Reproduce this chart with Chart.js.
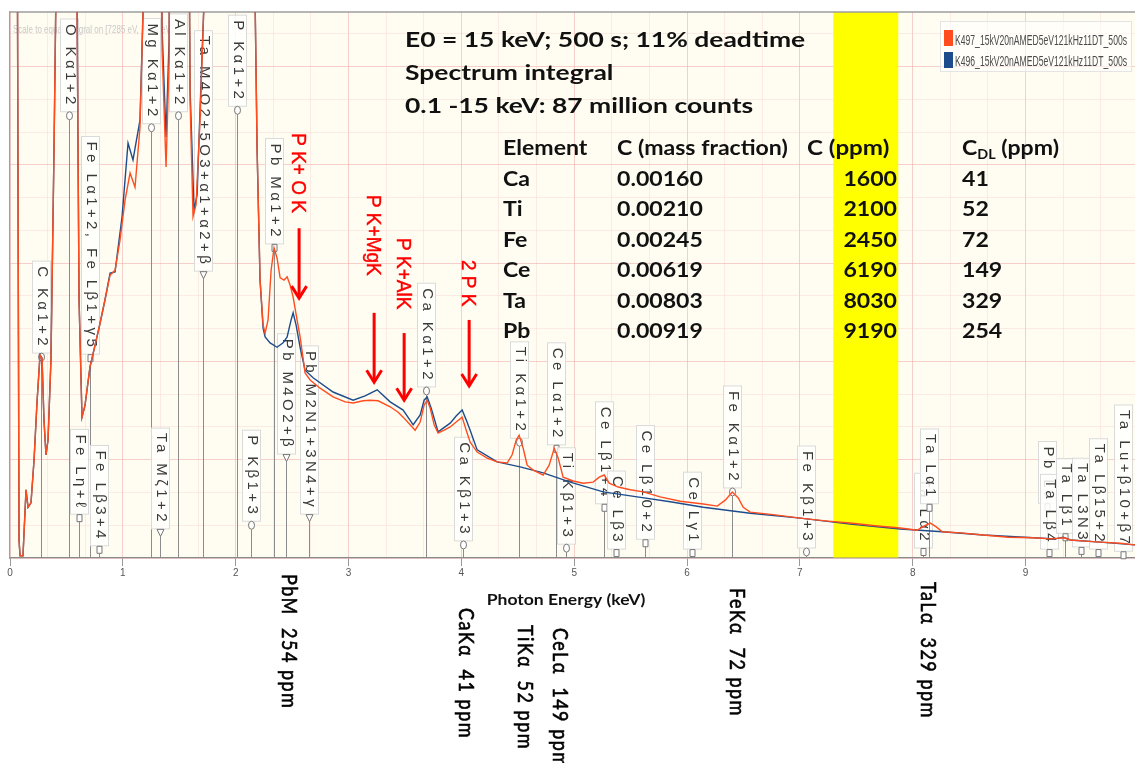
<!DOCTYPE html>
<html><head><meta charset="utf-8">
<script src="https://cdn.jsdelivr.net/npm/chart.js@4.4.1/dist/chart.umd.min.js"></script>
<style>html,body{margin:0;padding:0;background:#fff;}canvas{display:block;}</style>
</head><body>
<canvas id="c" width="1135" height="763"></canvas>
<script>
// ---------- DATA ----------
const seriesNames = ['K497_15kV20nAMED5eV121kHz11DT_500s', 'K496_15kV20nAMED5eV121kHz11DT_500s'];

const energyK497 = [
  0.027,0.053,0.080,0.089,0.115,0.142,0.160,0.186,0.213,0.239,
  0.266,0.284,0.301,0.319,0.337,0.363,0.390,0.417,0.461,0.523,
  0.567,0.594,0.612,0.638,0.665,0.709,0.754,0.798,0.842,0.887,
  0.931,0.975,1.020,1.064,1.108,1.152,1.179,1.206,1.259,1.312,
  1.348,1.383,1.410,1.436,1.489,1.560,1.596,1.622,1.649,1.684,
  1.720,1.755,1.879,2.012,2.128,2.172,2.190,2.216,2.243,2.261,
  2.287,2.314,2.340,2.367,2.394,2.429,2.456,2.482,2.509,2.544,
  2.571,2.615,2.660,2.748,2.863,2.970,3.041,3.129,3.191,3.262,
  3.369,3.440,3.484,3.546,3.590,3.635,3.670,3.697,3.723,3.759,
  3.794,3.848,3.901,3.954,4.007,4.043,4.078,4.140,4.229,4.317,
  4.406,4.450,4.486,4.512,4.548,4.583,4.637,4.725,4.778,4.823,
  4.858,4.902,4.991,5.080,5.168,5.222,5.266,5.310,5.390,5.496,
  5.612,5.762,5.940,6.144,6.268,6.339,6.401,6.454,6.498,6.560,
  6.782,7.004,7.225,7.447,7.668,7.890,8.041,8.103,8.156,8.209,
  8.262,8.422,8.626,8.848,9.069,9.220,9.344,9.397,9.530,9.663,9.840,9.973
];
const countsK497 = [
  3000,2000,33,4,4,125,93,101,179,284,
  372,366,253,189,216,363,747,1200,3000,6000,
  3000,1022,473,258,280,350,390,430,473,518,
  527,582,656,705,679,789,1000,2000,6000,2000,
  930,716,912,2000,6000,2000,839,625,647,802,
  1022,3000,2500,8000,2500,1022,747,509,427,412,
  436,527,568,549,513,509,515,500,478,436,
  405,339,326,311,295,286,284,288,289,288,
  277,267,258,244,234,249,280,289,275,244,
  229,234,240,249,258,234,212,194,183,176,
  174,189,216,225,201,170,161,152,170,201,
  183,148,141,137,139,148,152,137,130,125,
  121,112,104,99,95,106,121,110,93,84,
  79,73,68,64,59,55,51,59,64,57,
  48,46,42,38,37,35,37,33,31,29,27,24
];

const energyK496 = [
  0.027,0.053,0.080,0.089,0.115,0.142,0.160,0.186,0.213,0.239,
  0.266,0.284,0.301,0.319,0.337,0.363,0.390,0.417,0.461,0.523,
  0.567,0.594,0.612,0.638,0.665,0.709,0.754,0.798,0.842,
  0.887,0.931,0.993,1.046,1.090,1.152,1.179,1.206,1.259,1.312,
  1.348,1.383,1.410,1.436,1.489,1.560,1.596,1.631,1.658,1.684,
  1.720,1.755,1.879,2.012,2.128,2.172,2.190,2.216,2.243,2.261,
  2.305,2.367,2.420,2.456,2.491,2.509,2.535,2.571,2.615,2.686,
  2.863,3.041,3.147,3.254,3.369,3.484,3.573,3.635,3.670,3.697,
  3.732,3.794,3.901,3.954,4.007,4.043,4.078,4.140,4.317,4.521,
  4.725,4.965,5.257,5.559,5.851,6.144,6.560,7.004,7.447,7.890,
  8.262,8.626,9.069,9.264,9.335,9.397,9.663,9.973
];
const countsK496 = [
  3000,2000,33,4,4,125,93,101,179,284,
  372,366,253,189,216,363,747,1200,3000,6000,
  3000,1022,473,258,280,350,390,430,473,
  522,524,625,760,729,802,1000,2000,6000,2000,
  967,771,949,2000,6000,2000,857,637,665,820,
  1022,3000,2500,8000,2500,1022,747,509,421,405,
  394,386,394,405,436,449,427,386,344,330,
  304,289,297,308,286,271,244,262,289,295,
  275,231,247,260,271,253,234,198,176,167,
  156,139,121,112,103,93,82,73,62,53,
  48,42,37,35,38,33,29,24
];

const xTickLabels = ['0','1','2','3','4','5','6','7','8','9'];
const xAxisTitle = 'Photon Energy (keV)';

// X-ray line markers (energy keV, label, marker height in count units, symbol)
const markerEnergy = [0.277,0.525,0.615,0.705,0.792,1.254,1.33,1.487,1.71,2.013,2.139,2.342,2.443,2.653,3.69,4.012,4.51,4.84,4.93,5.266,5.372,5.63,6.046,6.40,7.05,8.087,8.146,9.19,9.21,9.35,9.49,9.645,9.86];
const markerLabel = ['C Kα1+2','O Kα1+2','Fe Lη+ℓ','Fe Lα1+2, Fe Lβ1+γ5','Fe Lβ3+4','Mg Kα1+2','Ta Mζ1+2','Al Kα1+2','Ta M4O2+5O3+α1+α2+β','P Kα1+2','P Kβ1+3','Pb Mα1+2','Pb M4O2+β','Pb M2N1+3N4+γ','Ca Kα1+2','Ca Kβ1+3','Ti Kα1+2','Ce Lα1+2','Ti Kβ1+3','Ce Lβ1+4','Ce Lβ3','Ce Lβ10+2','Ce Lγ1','Fe Kα1+2','Fe Kβ1+3','Ta Lα2','Ta Lα1','Pb Lℓ','Ta Lβ4','Ta Lβ1','Ta L3N3','Ta Lβ15+2','Ta Lu+β10+β7'];
const markerHeight = [368,810,73,366,15,788,46,810,518,820,60,568,183,73,306,24,212,200,18,92,9,27,9,121,11,11,92,93,9,38,13,9,5];
const markerSymbol = ['circle','circle','square','square','square','circle','triangle','circle','triangle','circle','circle','square','triangle','triangle','circle','circle','circle','square','circle','square','square','square','square','circle','circle','square','square','square','square','square','square','square','square'];

// red sum-peak annotations
const arrowText = ['P K+ O K','P K+MgK','P K+AlK','2 P K'];
const arrowEnergy = [2.562,3.227,3.493,4.069];
const arrowStart = [604,449,412,436];
const arrowEnd = [476,322,289,315];
const arrowTextTop = [778,665,586,546];

const highlightBand = [7.296, 7.872];

const infoLines = ['E0 = 15 keV; 500 s; 11% deadtime','Spectrum integral','0.1 -15 keV: 87 million counts'];
const tableElements = ['Ca','Ti','Fe','Ce','Ta','Pb'];
const tableMassFraction = ['0.00160','0.00210','0.00245','0.00619','0.00803','0.00919'];
const tablePpm = ['1600','2100','2450','6190','8030','9190'];
const tableDL = ['41','52','72','149','329','254'];

const bottomLabels = ['PbM  254 ppm','CaKα  41 ppm','TiKα  52 ppm','CeLα  149 ppm','FeKα  72 ppm','TaLα  329 ppm'];
const bottomLabelEnergy = [2.475,4.04,4.566,4.876,6.445,8.138];
const bottomLabelTop = [574,608,625,628,588,582];

const scaleNote = 'Scale to equal integral on [7285 eV, 7874 eV]';

// ---------- STYLE / LAYOUT ----------
const SANS = '"Liberation Sans", Arial, "DejaVu Sans", sans-serif';
const NARROW = '"Liberation Sans Narrow", "Liberation Sans", Arial, sans-serif';
const CAL = 'Lato, "Noto Sans", "DejaVu Sans", sans-serif';
const ORANGE = '#ff4d1f', BLUE = '#1d4c8c';
const xGridValues = []; for (let k = 0; k * (1/3) <= 9.97; k++) xGridValues.push(k / 3);
const yGridValues = []; for (let k = 0; k * 60 <= 960; k++) yGridValues.push(k * 60);
const isInt = v => Math.abs(v - Math.round(v)) < 1e-6;

function rotText(ctx, text, cx, top, sy, strokeW) {
  ctx.save(); ctx.translate(cx, top); ctx.rotate(Math.PI / 2);
  if (sy) ctx.scale(1, sy);
  ctx.textAlign = 'left'; ctx.textBaseline = 'middle';
  ctx.fillText(text, 0, 0);
  if (strokeW) { ctx.lineWidth = strokeW; ctx.strokeStyle = ctx.fillStyle; ctx.strokeText(text, 0, 0); }
  ctx.restore();
}
// horizontally stretched text
function sText(ctx, text, x, y, sx, align) {
  const w = ctx.measureText(text).width * sx;
  const x0 = align === 'right' ? x - w : (align === 'center' ? x - w / 2 : x);
  ctx.save(); ctx.translate(x0, y); ctx.scale(sx, 1);
  ctx.textAlign = 'left'; ctx.fillText(text, 0, 0); ctx.restore();
  return w;
}

const plugin = {
  id: 'spectrumDecor',
  beforeDraw(chart) {
    const {ctx, chartArea: a} = chart;
    ctx.save(); ctx.fillStyle = '#fffdf1';
    ctx.fillRect(a.left, a.top, a.right - a.left, a.bottom - a.top); ctx.restore();
  },
  beforeDatasetsDraw(chart) {
    const {ctx, chartArea: a, scales: {x, y}} = chart;
    ctx.save();
    const bx0 = x.getPixelForValue(highlightBand[0]), bx1 = x.getPixelForValue(highlightBand[1]);
    ctx.fillStyle = '#ffff00';
    ctx.fillRect(bx0, a.top, bx1 - bx0, a.bottom - a.top - 0.5);
    ctx.strokeStyle = '#9c9c9c'; ctx.lineWidth = 1.5;
    ctx.beginPath(); ctx.moveTo(a.left, a.top); ctx.lineTo(a.right, a.top); ctx.stroke();
    ctx.fillStyle = '#c9c9c9'; ctx.font = '11px ' + NARROW; ctx.textBaseline = 'alphabetic';
    ctx.fillText(scaleNote, a.left + 3, a.top + 21, 160);
    ctx.font = '15px ' + SANS;
    ctx.letterSpacing = '3.4px';
    for (let i = 0; i < markerEnergy.length; i++) {
      const px = Math.round(x.getPixelForValue(markerEnergy[i])) + 0.5;
      const py = y.getPixelForValue(markerHeight[i]);
      ctx.strokeStyle = '#8c8c8c'; ctx.lineWidth = 1;
      ctx.beginPath(); ctx.moveTo(px, a.bottom); ctx.lineTo(px, py); ctx.stroke();
      const w = ctx.measureText(markerLabel[i]).width;
      const tEnd = py - 8, tStart = tEnd - w;
      ctx.fillStyle = 'rgba(255,255,253,0.85)'; ctx.strokeStyle = '#dadada';
      ctx.fillRect(px - 9, tStart - 5, 18, w + 9);
      ctx.strokeRect(px - 9, tStart - 5, 18, w + 9);
      ctx.fillStyle = '#3a3a3a';
      rotText(ctx, markerLabel[i], px + 1, tStart);
      ctx.fillStyle = '#fff'; ctx.strokeStyle = '#777'; ctx.lineWidth = 1;
      ctx.beginPath();
      if (markerSymbol[i] === 'circle') ctx.ellipse(px, py, 3, 4, 0, 0, Math.PI * 2);
      else if (markerSymbol[i] === 'square') ctx.rect(px - 2.5, py - 3.5, 5, 7);
      else { ctx.moveTo(px - 3.5, py - 3.5); ctx.lineTo(px + 3.5, py - 3.5); ctx.lineTo(px, py + 3.5); ctx.closePath(); }
      ctx.fill(); ctx.stroke();
    }
    ctx.restore();
  },
  afterDatasetsDraw(chart) {
    const {ctx, chartArea: a, scales: {x, y}} = chart;
    ctx.save();
    // red arrows + labels
    ctx.strokeStyle = '#ff0000'; ctx.fillStyle = '#ff0000'; ctx.lineWidth = 3;
    ctx.font = '19px ' + SANS;
    for (let i = 0; i < arrowText.length; i++) {
      const px = x.getPixelForValue(arrowEnergy[i]);
      const p0 = y.getPixelForValue(arrowStart[i]), p1 = y.getPixelForValue(arrowEnd[i]);
      ctx.lineWidth = 3;
      ctx.beginPath(); ctx.moveTo(px, p0); ctx.lineTo(px, p1 - 2); ctx.stroke();
      ctx.beginPath(); ctx.moveTo(px - 7.5, p1 - 12); ctx.lineTo(px, p1); ctx.lineTo(px + 7.5, p1 - 12); ctx.stroke();
      rotText(ctx, arrowText[i], px - 1, y.getPixelForValue(arrowTextTop[i]), 1.1, 0.4);
    }
    // info text
    ctx.fillStyle = '#111'; ctx.textBaseline = 'alphabetic'; ctx.textAlign = 'left';
    ctx.font = 'bold 21px ' + CAL;
    infoLines.forEach((t, i) => sText(ctx, t, 405, 47 + i * 33, 1.26));
    // table
    const TS = 1.1, hb = 155;
    sText(ctx, 'Element', 503, hb, TS);
    sText(ctx, 'C (mass fraction)', 617, hb, TS);
    sText(ctx, 'C (ppm)', 807, hb, 1.15);
    let cw = sText(ctx, 'C', 962, hb, TS);
    ctx.font = 'bold 13px ' + CAL;
    const dw = sText(ctx, 'DL', 962 + cw, hb + 4, TS);
    ctx.font = 'bold 21px ' + CAL;
    sText(ctx, ' (ppm)', 962 + cw + dw, hb, TS);
    for (let i = 0; i < tableElements.length; i++) {
      const b = 185.5 + i * 30.5;
      sText(ctx, tableElements[i], 503, b, TS);
      sText(ctx, tableMassFraction[i], 617, b, TS);
      sText(ctx, tableDL[i], 962, b, TS);
      sText(ctx, tablePpm[i], 897, b, TS, 'right');
    }
    // x axis title
    ctx.font = 'bold 15px ' + CAL; ctx.textBaseline = 'middle';
    sText(ctx, xAxisTitle, 566, 600, 1.17, 'center');
    ctx.textBaseline = 'alphabetic';
    // legend
    ctx.fillStyle = 'rgba(255,255,255,0.55)'; ctx.strokeStyle = '#e4e4e4'; ctx.lineWidth = 1;
    ctx.fillRect(940.5, 21.5, 191, 50); ctx.strokeRect(940.5, 21.5, 191, 50);
    ctx.fillStyle = ORANGE; ctx.fillRect(944, 30, 9, 16);
    ctx.fillStyle = BLUE; ctx.fillRect(944, 52, 9, 16);
    ctx.fillStyle = '#4a4a4a'; ctx.font = '14px ' + NARROW;
    ctx.fillText(seriesNames[0], 955, 45, 172);
    ctx.fillText(seriesNames[1], 955, 66, 172);
    // bottom rotated labels
    ctx.fillStyle = '#000'; ctx.font = '18px ' + CAL; ctx.letterSpacing = '1.5px';
    for (let i = 0; i < bottomLabels.length; i++) {
      rotText(ctx, bottomLabels[i], x.getPixelForValue(bottomLabelEnergy[i]), bottomLabelTop[i], 1.2, 0.5);
    }
    ctx.restore();
  }
};

new Chart(document.getElementById('c'), {
  type: 'line',
  data: {
    datasets: [
      { label: seriesNames[0], data: energyK497.map((e, i) => ({x: e, y: countsK497[i]})),
        borderColor: ORANGE, backgroundColor: ORANGE, borderWidth: 1.4, pointRadius: 0, tension: 0 },
      { label: seriesNames[1], data: energyK496.map((e, i) => ({x: e, y: countsK496[i]})),
        borderColor: BLUE, backgroundColor: BLUE, borderWidth: 1.4, pointRadius: 0, tension: 0 }
    ]
  },
  options: {
    responsive: false, animation: false, devicePixelRatio: 1,
    layout: { padding: { left: 10, right: 0, top: 12, bottom: 0 } },
    plugins: { legend: { display: false }, tooltip: { enabled: false } },
    scales: {
      x: {
        type: 'linear', min: 0, max: 9.97,
        afterBuildTicks: s => { s.ticks = xGridValues.map(v => ({ value: v })); },
        afterFit: s => { s.height = 205; },
        ticks: { autoSkip: false, maxRotation: 0, padding: 1, color: '#555',
          font: { size: 10, family: NARROW },
          callback: v => isInt(v) ? xTickLabels[Math.round(v)] : '' },
        grid: {
          color: c => isInt(c.tick.value) ? 'rgba(240,170,170,0.55)' : 'rgba(245,200,200,0.35)',
          tickColor: c => isInt(c.tick.value) ? '#999' : 'rgba(0,0,0,0)',
          tickLength: 8, lineWidth: 1
        },
        border: { display: true, color: '#8a8a8a', width: 1.2 },
        title: { display: false }
      },
      y: {
        type: 'linear', min: 0, max: 1000,
        afterBuildTicks: s => { s.ticks = yGridValues.map(v => ({ value: v })); },
        ticks: { display: false },
        grid: { drawTicks: false,
          color: c => (c.tick.value % 180 === 0) ? 'rgba(240,170,170,0.55)' : 'rgba(245,200,200,0.35)' },
        border: { display: true, color: '#a0a0a0', width: 1.2 }
      }
    }
  },
  plugins: [plugin]
});
</script>
</body></html>
